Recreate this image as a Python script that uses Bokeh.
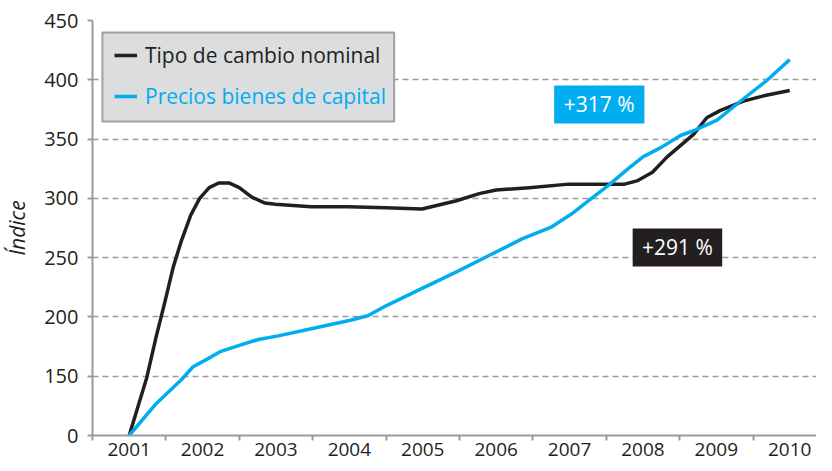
from bokeh.plotting import figure
from bokeh.models import Range1d, FixedTicker, Legend, LegendItem, BoxAnnotation, Label
from bokeh.embed import file_html
from bokeh.resources import INLINE

# ---- data ----
years = [2001, 2002, 2003, 2004, 2005, 2006, 2007, 2008, 2009, 2010]
year_labels = ["2001", "2002", "2003", "2004", "2005", "2006", "2007", "2008", "2009", "2010"]
year_bounds = [2000.5, 2001.5, 2002.5, 2003.5, 2004.5, 2005.5, 2006.5, 2007.5, 2008.5, 2009.5, 2010.5]
y_ticks = [100, 150, 200, 250, 300, 350, 400, 450]
y_tick_labels = ["0", "150", "200", "250", "300", "350", "400", "450"]

tc_label = "Tipo de cambio nominal"
tc_x = [2001.0, 2001.24, 2001.37, 2001.48, 2001.60, 2001.71, 2001.84, 2001.96, 2002.09, 2002.22,
        2002.36, 2002.50, 2002.67, 2002.85, 2002.99, 2003.48, 2003.98, 2004.49, 2004.99, 2005.46,
        2005.77, 2006.0, 2006.45, 2006.99, 2007.75, 2007.93, 2008.13, 2008.33, 2008.69, 2008.87,
        2009.05, 2009.37, 2009.68, 2010.0]
tc_y = [100, 149, 184, 211, 242, 264, 286, 300, 309, 313,
        313, 309, 301, 296, 295, 293, 293, 292, 291, 298,
        304, 307, 309, 312, 312, 315, 322, 335, 354, 368,
        374, 382, 387, 391]

pb_label = "Precios bienes de capital"
pb_x = [2001.0, 2001.37, 2001.71, 2001.87, 2002.05, 2002.25, 2002.50, 2002.76, 2003.03, 2003.48,
        2004.0, 2004.25, 2004.52, 2004.92, 2005.46, 2005.91, 2006.36, 2006.76, 2007.03, 2007.26,
        2007.53, 2007.80, 2008.0, 2008.25, 2008.51, 2008.69, 2009.01, 2009.37, 2009.68, 2010.0]
pb_y = [100, 127, 147, 158, 164, 171, 176, 181, 184, 190,
        197, 201, 210, 222, 238, 252, 266, 276, 287, 298,
        311, 325, 335, 343, 353, 357, 366, 384, 399, 417]

annot_pb = "+317 %"
annot_tc = "+291 %"

BLACK = "#231f20"
BLUE = "#00aeef"
GRAY = "#9a9a9a"
FONT = "Open Sans"

p = figure(width=816, height=463, output_backend="svg", toolbar_location=None,
           x_range=Range1d(2000.5, 2010.365), y_range=Range1d(100, 450),
           min_border_left=84, min_border_top=20, min_border_right=0, min_border_bottom=28)
p.outline_line_color = None
p.background_fill_color = "white"
p.border_fill_color = "white"

r_tc = p.line(tc_x, tc_y, line_color=BLACK, line_width=3.5, line_join="round")
r_pb = p.line(pb_x, pb_y, line_color=BLUE, line_width=3.5, line_join="round")

# axes
p.xaxis.ticker = FixedTicker(ticks=years, minor_ticks=year_bounds)
p.xaxis.major_label_overrides = {y: l for y, l in zip(years, year_labels)}
p.xaxis.major_tick_out = 0
p.xaxis.major_tick_in = 0
p.xaxis.minor_tick_out = 5
p.xaxis.minor_tick_in = 0
p.xaxis.minor_tick_line_color = GRAY
p.xaxis.minor_tick_line_width = 2
p.xaxis.major_label_standoff = 2

p.yaxis.ticker = FixedTicker(ticks=y_ticks)
p.yaxis.major_label_overrides = {t: l for t, l in zip(y_ticks, y_tick_labels)}
p.yaxis.major_tick_out = 5
p.yaxis.major_tick_in = 0
p.yaxis.minor_tick_out = 0
p.yaxis.minor_tick_in = 0
p.yaxis.major_label_standoff = 9
p.yaxis.axis_label = "Índice"
p.yaxis.axis_label_text_font_style = "italic"
p.yaxis.axis_label_text_font_size = "21px"
p.yaxis.axis_label_text_color = BLACK
p.yaxis.axis_label_text_font = FONT
p.yaxis.axis_label_standoff = 10

for ax in (p.xaxis[0], p.yaxis[0]):
    ax.axis_line_color = GRAY
    ax.axis_line_width = 2
    ax.major_tick_line_color = GRAY
    ax.major_tick_line_width = 2
    ax.major_label_text_font = FONT
    ax.major_label_text_font_size = "19px"
    ax.major_label_text_color = BLACK
p.yaxis.major_label_text_font_size = "20px"

p.xgrid.visible = False
p.ygrid.ticker = FixedTicker(ticks=y_ticks)
p.ygrid.grid_line_color = GRAY
p.ygrid.grid_line_width = 1.3
p.ygrid.grid_line_dash = "6 4"

# legend box
p.add_layout(BoxAnnotation(left=2000.635, right=2004.61, top=439.9, bottom=364.8,
                           fill_color="#dcdddf", fill_alpha=1.0,
                           line_color="#a0a0a0", line_width=2, line_alpha=1.0))

def make_legend(label, renderer, color, loc):
    return Legend(items=[LegendItem(label=label, renderers=[renderer])], location=loc,
                  padding=0, margin=0, spacing=0, border_line_alpha=0, background_fill_alpha=0,
                  glyph_width=23, glyph_height=20, label_height=20, label_standoff=8,
                  label_text_font=FONT, label_text_font_size="21px", label_text_color=color,
                  label_text_baseline="middle")

p.add_layout(make_legend(tc_label, r_tc, BLACK, (22, 366)))
p.add_layout(make_legend(pb_label, r_pb, BLUE, (22, 325)))

# annotations
p.add_layout(BoxAnnotation(left=2006.79, right=2008.02, top=395.2, bottom=363.2,
                           fill_color=BLUE, fill_alpha=1.0, line_alpha=0))
p.add_layout(Label(x=2007.405, y=379.2, text=annot_pb, text_align="center", text_baseline="middle",
                   text_color="white", text_font=FONT, text_font_size="21px"))
p.add_layout(BoxAnnotation(left=2007.86, right=2009.08, top=274.6, bottom=242.6,
                           fill_color=BLACK, fill_alpha=1.0, line_alpha=0))
p.add_layout(Label(x=2008.47, y=258.6, text=annot_tc, text_align="center", text_baseline="middle",
                   text_color="white", text_font=FONT, text_font_size="21px"))

open("out.html", "w").write(file_html(p, INLINE))
